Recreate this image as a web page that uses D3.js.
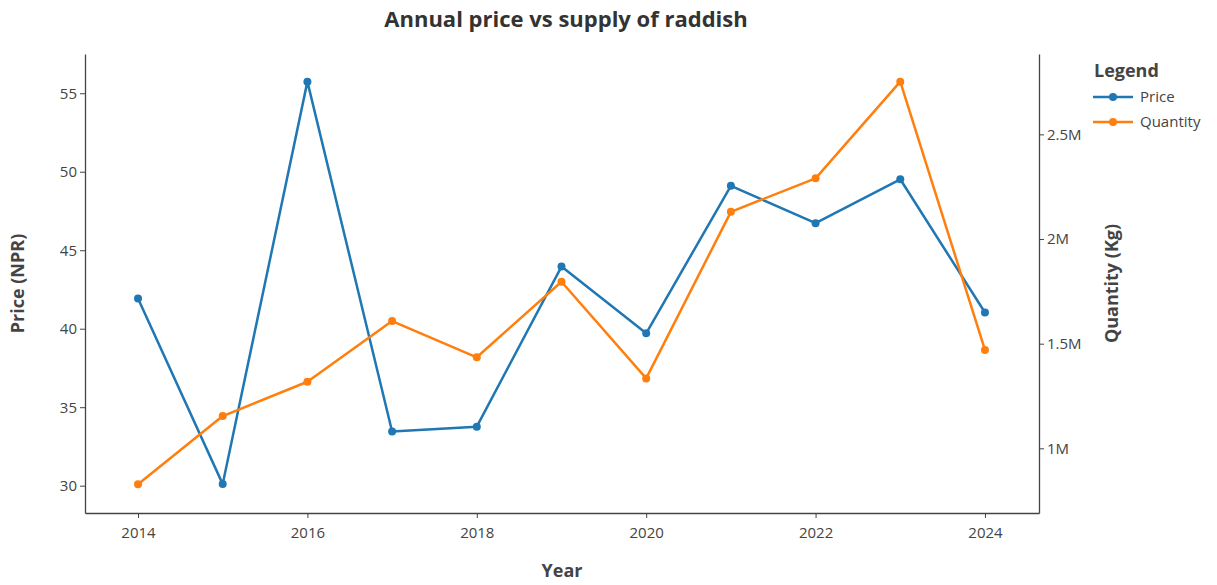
<!DOCTYPE html>
<html>
<head>
<meta charset="utf-8">
<script src="https://cdn.jsdelivr.net/npm/d3@7"></script>
<style>
  body { margin: 0; background: #fff; }
  svg { font-family: "Open Sans", sans-serif; }
  .tick text { fill: #444; font-size: 15px; font-family: "Open Sans", sans-serif; }
  .axis path, .axis line { stroke: #444; }
</style>
</head>
<body>
<div id="chart"></div>
<script>
const years = [2014, 2015, 2016, 2017, 2018, 2019, 2020, 2021, 2022, 2023, 2024];
const price = [41.92, 30.1, 55.74, 33.45, 33.76, 43.96, 39.71, 49.1, 46.72, 49.52, 41.03];
const quantity = [828000, 1154000, 1318000, 1608000, 1435000, 1796000, 1334000, 2130000, 2290000, 2752000, 1470000];
const yearTicks = [2014, 2016, 2018, 2020, 2022, 2024];
const priceTicks = [30, 35, 40, 45, 50, 55];
const qtyTicks = [1e6, 1.5e6, 2e6, 2.5e6];

const W = 1217, H = 585;
const margin = {top: 54, right: 178, bottom: 72, left: 85};
const width = W - margin.left - margin.right;
const height = H - margin.top - margin.bottom;

const svg = d3.select("#chart")
  .append("svg")
  .attr("width", W)
  .attr("height", H);

const g = svg.append("g")
  .attr("transform", `translate(${margin.left},${margin.top})`);

const x = d3.scaleLinear().domain([2013.374, 2024.638]).range([0, width]);
const yL = d3.scaleLinear().domain([28.26, 57.5]).range([height, 0]);
const yR = d3.scaleLinear().domain([691000, 2884000]).range([height, 0]);

const fmtM = d => (d / 1e6) + "M";

g.append("g")
  .attr("class", "axis")
  .attr("transform", `translate(0,${height})`)
  .call(d3.axisBottom(x).tickValues(yearTicks).tickFormat(d3.format("d"))
    .tickSize(5).tickSizeOuter(0).tickPadding(9));

g.append("g")
  .attr("class", "axis")
  .call(d3.axisLeft(yL).tickValues(priceTicks).tickSize(5).tickSizeOuter(0).tickPadding(3));

g.append("g")
  .attr("class", "axis")
  .attr("transform", `translate(${width},0)`)
  .call(d3.axisRight(yR).tickValues(qtyTicks).tickFormat(fmtM).tickSize(5).tickSizeOuter(0).tickPadding(3));

g.selectAll(".axis .domain").attr("stroke-width", 1.3);

const series = [
  {name: "Price", values: price, y: yL, color: "#1f77b4"},
  {name: "Quantity", values: quantity, y: yR, color: "#ff7f0e"}
];

series.forEach(s => {
  const pts = years.map((yr, i) => [yr, s.values[i]]);
  g.append("path")
    .datum(pts)
    .attr("fill", "none")
    .attr("stroke", s.color)
    .attr("stroke-width", 2.5)
    .attr("stroke-linejoin", "round")
    .attr("d", d3.line().x(d => x(d[0])).y(d => s.y(d[1])));
  g.selectAll(null)
    .data(pts)
    .enter()
    .append("circle")
    .attr("cx", d => x(d[0]))
    .attr("cy", d => s.y(d[1]))
    .attr("r", 4)
    .attr("fill", s.color);
});

// titles
svg.append("text")
  .attr("x", 566).attr("y", 27)
  .attr("text-anchor", "middle")
  .attr("font-size", 22).attr("font-weight", "bold").attr("fill", "#333")
  .text("Annual price vs supply of raddish");

svg.append("text")
  .attr("x", margin.left + width / 2).attr("y", 577)
  .attr("text-anchor", "middle")
  .attr("font-size", 18).attr("font-weight", "bold").attr("fill", "#444")
  .text("Year");

svg.append("text")
  .attr("transform", `translate(24,${margin.top + height / 2}) rotate(-90)`)
  .attr("text-anchor", "middle")
  .attr("font-size", 18).attr("font-weight", "bold").attr("fill", "#444")
  .text("Price (NPR)");

svg.append("text")
  .attr("transform", `translate(1118,${margin.top + height / 2}) rotate(-90)`)
  .attr("text-anchor", "middle")
  .attr("font-size", 18).attr("font-weight", "bold").attr("fill", "#444")
  .text("Quantity (Kg)");

// legend
const legend = svg.append("g").attr("transform", "translate(1093,0)");
legend.append("text")
  .attr("x", 1).attr("y", 77)
  .attr("font-size", 18).attr("font-weight", "bold").attr("fill", "#444")
  .text("Legend");

const item = legend.selectAll(".item")
  .data(series)
  .enter()
  .append("g")
  .attr("class", "item")
  .attr("transform", (d, i) => `translate(0,${97 + i * 25})`);

item.append("line")
  .attr("x1", 0).attr("x2", 40)
  .attr("stroke", d => d.color).attr("stroke-width", 2.5);
item.append("circle")
  .attr("cx", 20).attr("r", 4)
  .attr("fill", d => d.color);
item.append("text")
  .attr("x", 47).attr("dy", "0.35em")
  .attr("font-size", 15).attr("fill", "#444")
  .text(d => d.name);
</script>
</body>
</html>
